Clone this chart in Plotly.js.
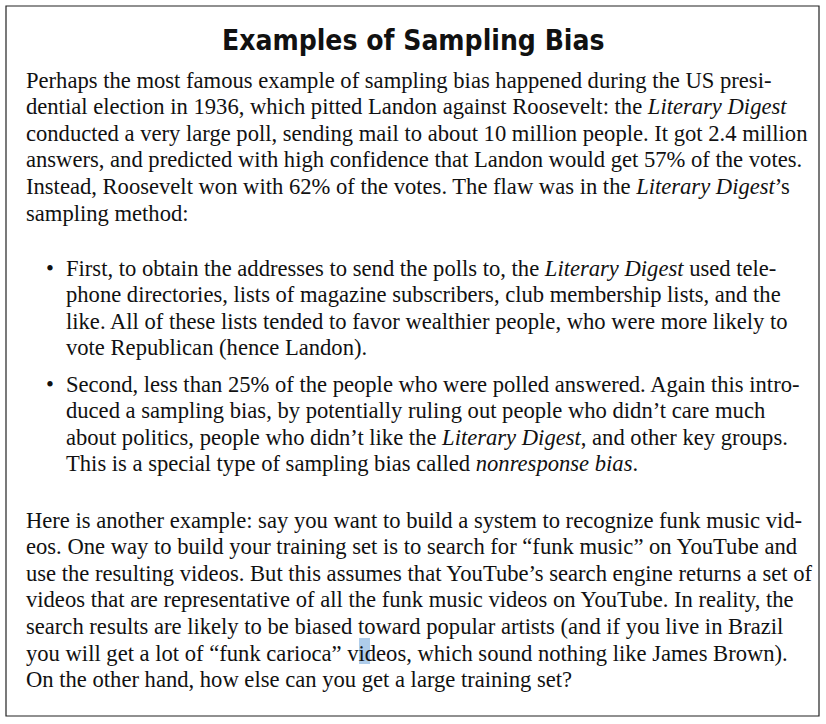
<!DOCTYPE html>
<html>
<head>
<meta charset="utf-8">
<script src="https://cdn.plot.ly/plotly-3.0.1.min.js"></script>
<style>body{margin:0;background:#fff}</style>
</head>
<body>
<div id="chart" style="width:826px;height:724px"></div>
<script>
var title = "Examples of Sampling Bias";

var para1 = [
  "Perhaps the most famous example of sampling bias happened during the US presi-",
  "dential election in 1936, which pitted Landon against Roosevelt: the <i>Literary Digest</i>",
  "conducted a very large poll, sending mail to about 10 million people. It got 2.4 million",
  "answers, and predicted with high confidence that Landon would get 57% of the votes.",
  "Instead, Roosevelt won with 62% of the votes. The flaw was in the <i>Literary Digest</i>’s",
  "sampling method:"
];
var bullet1 = [
  "First, to obtain the addresses to send the polls to, the <i>Literary Digest</i> used tele-",
  "phone directories, lists of magazine subscribers, club membership lists, and the",
  "like. All of these lists tended to favor wealthier people, who were more likely to",
  "vote Republican (hence Landon)."
];
var bullet2 = [
  "Second, less than 25% of the people who were polled answered. Again this intro-",
  "duced a sampling bias, by potentially ruling out people who didn’t care much",
  "about politics, people who didn’t like the <i>Literary Digest</i>, and other key groups.",
  "This is a special type of sampling bias called <i>nonresponse bias</i>."
];
var para2 = [
  "Here is another example: say you want to build a system to recognize funk music vid-",
  "eos. One way to build your training set is to search for “funk music” on YouTube and",
  "use the resulting videos. But this assumes that YouTube’s search engine returns a set of",
  "videos that are representative of all the funk music videos on YouTube. In reality, the",
  "search results are likely to be biased toward popular artists (and if you live in Brazil",
  "you will get a lot of “funk carioca” videos, which sound nothing like James Brown).",
  "On the other hand, how else can you get a large training set?"
];

var font = {family: "Liberation Serif, DejaVu Serif, serif", size: 22.6, color: "#111"};
var ann = [];
function block(lines, x0, y0, bullet) {
  lines.forEach(function (t, i) {
    ann.push({x: x0, y: y0 + i * 26.6, xref: "x", yref: "y", text: t, showarrow: false,
              xanchor: "left", yanchor: "middle", align: "left", font: font});
  });
  if (bullet) ann.push({x: 50, y: y0, xref: "x", yref: "y", text: "•", showarrow: false,
                        xanchor: "center", yanchor: "middle", font: font});
}
ann.push({x: 413, y: 40, xref: "x", yref: "y", text: "<b>" + title + "</b>", showarrow: false,
          xanchor: "center", yanchor: "middle",
          font: {family: "Liberation Sans Narrow, DejaVu Sans Condensed, Roboto Condensed, Roboto, sans-serif", size: 28, color: "#111"}});
block(para1, 24, 80, false);
block(bullet1, 64, 268, true);
block(bullet2, 64, 384, true);
block(para2, 24, 520, false);

var layout = {
  width: 826, height: 724,
  margin: {l: 0, r: 0, t: 0, b: 0},
  paper_bgcolor: "#fff", plot_bgcolor: "#fff",
  xaxis: {range: [0, 826], visible: false, fixedrange: true},
  yaxis: {range: [724, 0], visible: false, fixedrange: true},
  showlegend: false,
  annotations: ann,
  shapes: [
    {type: "rect", xref: "x", yref: "y", x0: 6, x1: 819, y0: 6, y1: 716,
     line: {color: "#222", width: 1.2}},
    {type: "rect", xref: "x", yref: "y", x0: 359, x1: 370, y0: 638, y1: 664,
     line: {width: 0}, fillcolor: "rgba(120,170,220,0.6)", layer: "below"}
  ]
};
Plotly.newPlot("chart", [], layout, {staticPlot: true, displayModeBar: false});
</script>
</body>
</html>
